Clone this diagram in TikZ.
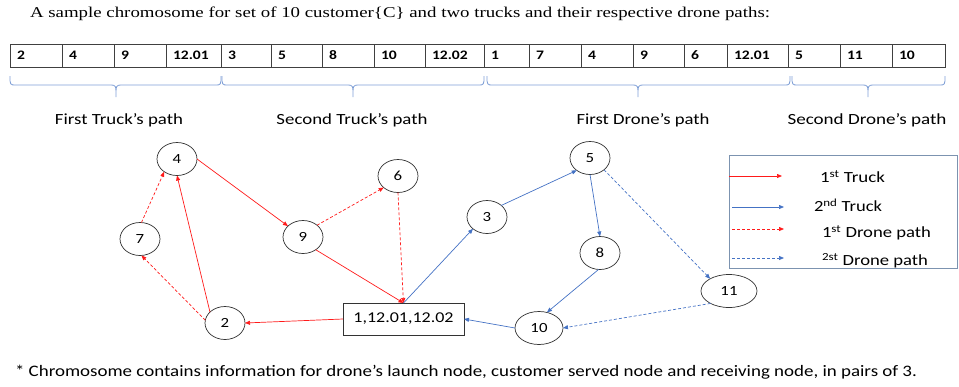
\documentclass[tikz,border=0pt]{standalone}
\usepackage{fontspec}
\usepackage{graphicx}
\usetikzlibrary{shapes.geometric,arrows.meta}
\setmainfont{Liberation Serif}
\newfontfamily\calf[FakeStretch=1.2]{Carlito}
\newcommand{\fitw}[2]{\resizebox{#1}{\height}{#2}}
\definecolor{tred}{HTML}{FF1A1A}
\definecolor{tblue}{HTML}{4472C4}
\definecolor{bracec}{HTML}{7F9FD6}
\definecolor{legbd}{HTML}{7C93B0}
\begin{document}
\begin{tikzpicture}[x=1pt,y=-1pt,
  every node/.style={inner sep=0pt, outer sep=0pt},
  nd/.style={draw=black!80, line width=0.7pt, ellipse, minimum width=40pt, minimum height=33pt,
    font=\calf\fontsize{14}{14}\selectfont},
  cellbd/.style={draw=black!75, line width=0.8pt},
  celltext/.style={anchor=west, font=\calf\bfseries\fontsize{13}{13}\selectfont},
  lbl/.style={font=\calf\fontsize{15.5}{15.5}\selectfont},
  brc/.style={draw=bracec, line width=0.8pt},
  tk1/.style={draw=tred, line width=0.7pt, -{Triangle[length=5pt,width=4pt]}},
  tk2/.style={draw=tblue, line width=0.7pt, -{Triangle[length=5pt,width=4pt]}},
  dr1/.style={tk1, dash pattern=on 3pt off 2pt},
  dr2/.style={tk2, dash pattern=on 3pt off 2pt},
]
\useasboundingbox (0,0) rectangle (959,386);

% title
\node[anchor=west] (title) at (30,14) {\fitw{740pt}{\fontsize{15}{15}\selectfont A sample chromosome for set of 10 customer\{C\} and two trucks and their respective drone paths:}};

% chromosome table
\foreach \l/\r/\t [count=\i] in {10/62/2, 62/114/4, 114/166/9, 166/221/12.01, 221/271/3, 271/322/5, 322/374/8, 374/425/10, 425/484/12.02, 484/529/1, 529/581/7, 581/633/4, 633/684/9, 684/727/6, 727/788/12.01, 788/840/5, 840/892/11, 892/945/10} {
  \draw[cellbd] (\l,44) rectangle (\r,67);
  \node[celltext] (cell\i) at ({\l+7},55.5) {\t};
}

% braces
\foreach \a/\m/\b in {10/116/221, 222/353/484, 487/638/790, 792/868/945} {
  \draw[brc] (\a,76) .. controls (\a,85) .. ({\a+6},85) -- ({\m-6},85) .. controls (\m,85) .. (\m,97)
     .. controls (\m,85) .. ({\m+6},85) -- ({\b-6},85) .. controls (\b,85) .. (\b,76);
}

% brace labels
\node[lbl] (lab1) at (119,120) {\fitw{128pt}{First Truck’s path}};
\node[lbl] (lab2) at (352,120) {\fitw{151pt}{Second Truck’s path}};
\node[lbl] (lab3) at (643,120) {\fitw{133pt}{First Drone’s path}};
\node[lbl] (lab4) at (867,120) {\fitw{159pt}{Second Drone’s path}};

% nodes
\node[nd] (n4) at (177,159) {4};
\node[nd] (n7) at (140,239) {7};
\node[nd] (n2) at (225,323) {2};
\node[nd] (n9) at (303,237) {9};
\node[nd] (n6) at (398,176) {6};
\node[nd] (n3) at (487,217) {3};
\node[nd] (n5) at (590,158) {5};
\node[nd] (n8) at (600,253) {8};
\node[nd, minimum width=48pt] (n10) at (539,328) {10};
\node[nd, minimum width=56pt] (n11) at (729,291) {11};
\node[draw=black!80, line width=0.7pt, minimum width=121pt, minimum height=32pt,
  font=\calf\fontsize{15}{15}\selectfont] (box) at (403.5,319) {1,12.01,12.02};

% first truck
\draw[tk1] (box.west) -- (n2.east);
\draw[tk1] (n2.144) -- (n4.south);
\draw[tk1] (n4.east) -- (n9.144);
\draw[tk1] (n9.315) -- (box.north);
% first drone
\draw[dr1] (n2.172) -- (n7.275);
\draw[dr1] (n7.85) -- (n4.225);
\draw[dr1] (n9.40) -- (n6.219);
\draw[dr1] (n6.south) -- (box.north);
% second truck
\draw[tk2] (box.north) -- (n3.220);
\draw[tk2] (n3.39) -- (n5.223);
\draw[tk2] (n5.south) -- (n8.north);
\draw[tk2] (n8.265) -- (n10.63);
\draw[tk2] (n10.west) -- (box.east);
% second drone
\draw[dr2] (n5.320) -- (n11.147);
\draw[dr2] (n11.214) -- (n10.east);

% legend
\node[draw=legbd, line width=0.8pt, minimum width=228pt, minimum height=113pt, anchor=north west] (legend) at (729,155) {};
\coordinate (la1) at (729,176); \coordinate (lb1) at (782,176);
\coordinate (la2) at (732,207); \coordinate (lb2) at (784,207);
\coordinate (la3) at (732,229); \coordinate (lb3) at (784,229);
\coordinate (la4) at (732,258); \coordinate (lb4) at (784,258);
\draw[tk1] (la1) -- (lb1);
\draw[tk2] (la2) -- (lb2);
\draw[dr1] (la3) -- (lb3);
\draw[dr2] (la4) -- (lb4);
\node[lbl, anchor=west] (lt1) at (820,177) {\fitw{65pt}{1\textsuperscript{st} Truck}};
\node[lbl, anchor=west] (lt2) at (814,205) {\fitw{68pt}{2\textsuperscript{nd} Truck}};
\node[lbl, anchor=west] (lt3) at (822,233) {\fitw{109pt}{1\textsuperscript{st} Drone path}};
\node[lbl, anchor=west] (lt4) at (822,261) {\fitw{106pt}{\textsuperscript{2st} Drone path}};

% footnote
\node[anchor=west] (foot) at (15,372) {\fitw{902pt}{\calf\fontsize{16}{16}\selectfont * Chromosome contains information for drone’s launch node, customer served node and receiving node, in pairs of 3.}};
\end{tikzpicture}
\end{document}
